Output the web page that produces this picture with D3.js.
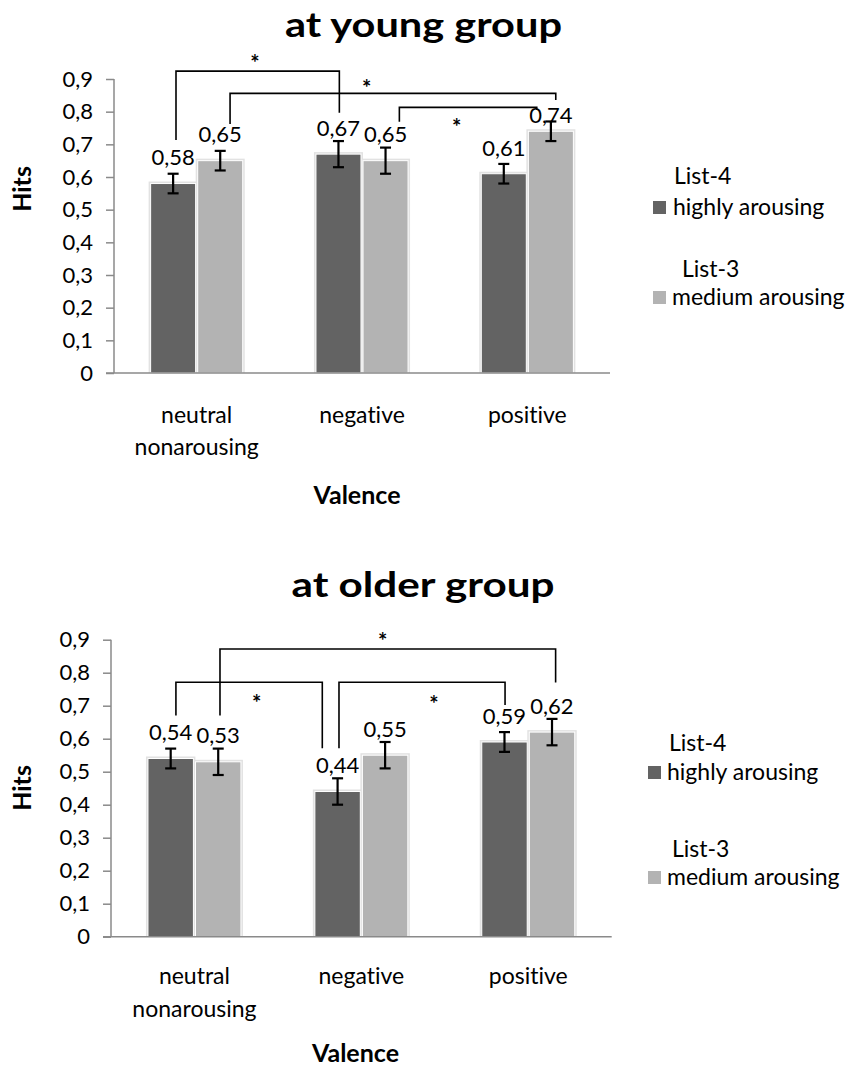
<!DOCTYPE html>
<html>
<head>
<meta charset="utf-8">
<script src="https://cdn.jsdelivr.net/npm/d3@7"></script>
<style>
  html, body { margin: 0; padding: 0; background: #fff; }
  svg { display: block; font-family: Lato, "Open Sans", sans-serif; font-variant-ligatures: none; }
</style>
</head>
<body>
<svg id="chart" width="852" height="1068"></svg>
<script>
// ---- data ----
const categories = ["neutral nonarousing", "negative", "positive"];
const seriesNames = ["highly arousing", "medium arousing"];
const seriesLists = ["List-4", "List-3"];

const youngHigh = [0.58, 0.67, 0.61];
const youngMedium = [0.65, 0.65, 0.74];
const youngHighErr = [0.03, 0.04, 0.03];
const youngMediumErr = [0.03, 0.04, 0.03];

const olderHigh = [0.54, 0.44, 0.59];
const olderMedium = [0.53, 0.55, 0.62];
const olderHighErr = [0.03, 0.04, 0.03];
const olderMediumErr = [0.04, 0.04, 0.04];

const yTicks = [0, 0.1, 0.2, 0.3, 0.4, 0.5, 0.6, 0.7, 0.8, 0.9];
const yTickLabels = ["0", "0,1", "0,2", "0,3", "0,4", "0,5", "0,6", "0,7", "0,8", "0,9"];

const titles = ["at young group", "at older group"];
const yTitle = "Hits";
const xTitle = "Valence";

// ---- styling ----
const barColors = ["#636363", "#b3b3b3"];
const axisColor = "#8a8a8a";
const fmt = v => d3.format(".2f")(v).replace(".", ",");

// significance brackets, in category units (x) and value units (y)
const youngBrackets = [
  { x1: 0.375, x2: 1.363, y: 0.924, y1: 0.713, y2: 0.797, sx: 0.853, sy: 0.964 },
  { x1: 0.702, x2: 2.672, y: 0.856, y1: 0.762, y2: 0.836, sx: 1.528, sy: 0.887 },
  { x1: 1.726, x2: 2.557, y: 0.813, y1: 0.769, y2: 0.805, sx: 2.073, sy: 0.769 }
];
const olderBrackets = [
  { x1: 0.389, x2: 1.266, y: 0.771, y1: 0.670, y2: 0.571, sx: 0.873, sy: 0.722 },
  { x1: 0.653, x2: 2.664, y: 0.872, y1: 0.670, y2: 0.770, sx: 1.628, sy: 0.912 },
  { x1: 1.366, x2: 2.361, y: 0.771, y1: 0.571, y2: 0.702, sx: 1.935, sy: 0.720 }
];

const panels = [
  {
    title: titles[0], values: [youngHigh, youngMedium], errors: [youngHighErr, youngMediumErr],
    brackets: youngBrackets,
    left: 114, right: 610, top: 79, bottom: 373,
    titleX: 423.5, titleY: 37, titleWidth: 277,
    hitsY: 189, valenceX: 357, valenceY: 504, catGap: 50, catLine: 32,
    labelLift: [[18.5, 18.5, 18], [18.5, 18.5, 8]],
    legend: { mx: 653, rows: [
      { listX: 674, listY: 184, nameX: 673, nameY: 215 },
      { listX: 682, listY: 277, nameX: 672, nameY: 305 }
    ] }
  },
  {
    title: titles[1], values: [olderHigh, olderMedium], errors: [olderHighErr, olderMediumErr],
    brackets: olderBrackets,
    left: 111, right: 611.7, top: 639.7, bottom: 936.7,
    titleX: 423, titleY: 597, titleWidth: 263,
    hitsY: 788, valenceX: 355.5, valenceY: 1062, catGap: 47.5, catLine: 33,
    labelLift: [[18.5, 18.5, 18.5], [18.5, 18.5, 18.5]],
    legend: { mx: 648, rows: [
      { listX: 669, listY: 751, nameX: 667, nameY: 780 },
      { listX: 672, listY: 857, nameX: 667, nameY: 885 }
    ] }
  }
];

const svg = d3.select("#chart");

panels.forEach(p => {
  const g = svg.append("g");

  const y = d3.scaleLinear().domain([0, 0.9]).range([p.bottom, p.top]);
  const x0 = d3.scaleBand().domain(categories).range([p.left, p.right])
    .paddingInner(0.443).paddingOuter(0.2215);
  const x1 = d3.scaleBand().domain([0, 1]).range([0, x0.bandwidth()]).paddingInner(0.044);
  const xc = d3.scaleLinear().domain([0, 3]).range([p.left, p.right]);

  // title
  g.append("text")
    .attr("x", p.titleX).attr("y", p.titleY)
    .attr("text-anchor", "middle")
    .attr("font-size", 35).attr("font-weight", 700)
    .attr("textLength", p.titleWidth).attr("lengthAdjust", "spacingAndGlyphs")
    .text(p.title);

  // bars: soft halo, then the bar itself
  const rows = [];
  categories.forEach((c, i) => {
    [0, 1].forEach(s => rows.push({ c, s, v: p.values[s][i], e: p.errors[s][i], i }));
  });

  g.append("g").selectAll("rect").data(rows).join("rect")
    .attr("x", d => x0(d.c) + x1(d.s) - 2)
    .attr("y", d => y(d.v) - 2)
    .attr("width", x1.bandwidth() + 4)
    .attr("height", d => y(0) - y(d.v) + 2)
    .attr("fill", "#e2e2e2");

  g.append("g").selectAll("rect").data(rows).join("rect")
    .attr("x", d => x0(d.c) + x1(d.s))
    .attr("y", d => y(d.v))
    .attr("width", x1.bandwidth())
    .attr("height", d => y(0) - y(d.v))
    .attr("fill", d => barColors[d.s])
    .attr("stroke", "#fff").attr("stroke-width", 1);

  // axes
  const yAxis = d3.axisLeft(y).tickValues(yTicks).tickSize(8)
    .tickFormat((d, i) => yTickLabels[i]).tickPadding(13);
  const ya = g.append("g").attr("transform", `translate(${p.left},0)`).call(yAxis);
  ya.select(".domain").attr("stroke", axisColor).attr("stroke-width", 1.5)
    .attr("d", `M0,${p.top}V${p.bottom}`);
  ya.selectAll(".tick line").attr("stroke", axisColor).attr("stroke-width", 1.5);
  ya.selectAll(".tick text").attr("font-size", 22).attr("fill", "#000")
    .attr("font-family", "Lato, sans-serif");

  const xAxis = d3.axisBottom(x0).tickSize(0).tickFormat("");
  const xa = g.append("g").attr("transform", `translate(0,${p.bottom})`).call(xAxis);
  xa.select(".domain").attr("stroke", axisColor).attr("stroke-width", 1.5)
    .attr("d", `M${p.left - 8},0H${p.right}`);

  // category labels (wrapped on the space)
  categories.forEach(c => {
    const t = g.append("text")
      .attr("text-anchor", "middle").attr("font-size", 23)
      .attr("x", x0(c) + x0.bandwidth() / 2);
    c.split(" ").forEach((w, k) => {
      t.append("tspan")
        .attr("x", x0(c) + x0.bandwidth() / 2)
        .attr("y", p.bottom + p.catGap + k * p.catLine)
        .text(w);
    });
  });

  // axis titles
  g.append("text")
    .attr("transform", `translate(31,${p.hitsY}) rotate(-90)`)
    .attr("text-anchor", "middle").attr("font-size", 25).attr("font-weight", 700)
    .text(yTitle);
  g.append("text")
    .attr("x", p.valenceX).attr("y", p.valenceY)
    .attr("text-anchor", "middle").attr("font-size", 25).attr("font-weight", 700)
    .text(xTitle);

  // error bars
  const cx = d => x0(d.c) + x1(d.s) + x1.bandwidth() / 2;
  const eg = g.append("g").attr("stroke", "#000").attr("stroke-width", 2.2);
  rows.forEach(d => {
    eg.append("line").attr("x1", cx(d)).attr("x2", cx(d))
      .attr("y1", y(d.v + d.e)).attr("y2", y(d.v - d.e));
    [d.v + d.e, d.v - d.e].forEach(v => {
      eg.append("line").attr("x1", cx(d) - 5.5).attr("x2", cx(d) + 5.5)
        .attr("y1", y(v)).attr("y2", y(v));
    });
  });

  // value labels
  g.append("g").selectAll("text").data(rows).join("text")
    .attr("x", cx)
    .attr("y", d => y(d.v) - p.labelLift[d.s][d.i])
    .attr("text-anchor", "middle").attr("font-size", 22)
    .text(d => fmt(d.v));

  // significance brackets
  const bg = g.append("g").attr("fill", "none").attr("stroke", "#000").attr("stroke-width", 1.6);
  p.brackets.forEach(b => {
    bg.append("path").attr("d",
      `M${xc(b.x1)},${y(b.y1)}V${y(b.y)}H${xc(b.x2)}V${y(b.y2)}`);
    g.append("text")
      .attr("x", xc(b.sx)).attr("y", y(b.sy) + 13)
      .attr("text-anchor", "middle").attr("font-size", 22).attr("font-weight", 700)
      .text("*");
  });

  // legend
  p.legend.rows.forEach((r, s) => {
    g.append("rect")
      .attr("x", p.legend.mx).attr("y", r.nameY - 14)
      .attr("width", 13).attr("height", 13)
      .attr("fill", barColors[s]);
    g.append("text").attr("x", r.listX).attr("y", r.listY)
      .attr("font-size", 23).text(seriesLists[s]);
    g.append("text").attr("x", r.nameX).attr("y", r.nameY)
      .attr("font-size", 23).text(seriesNames[s]);
  });
});
</script>
</body>
</html>
